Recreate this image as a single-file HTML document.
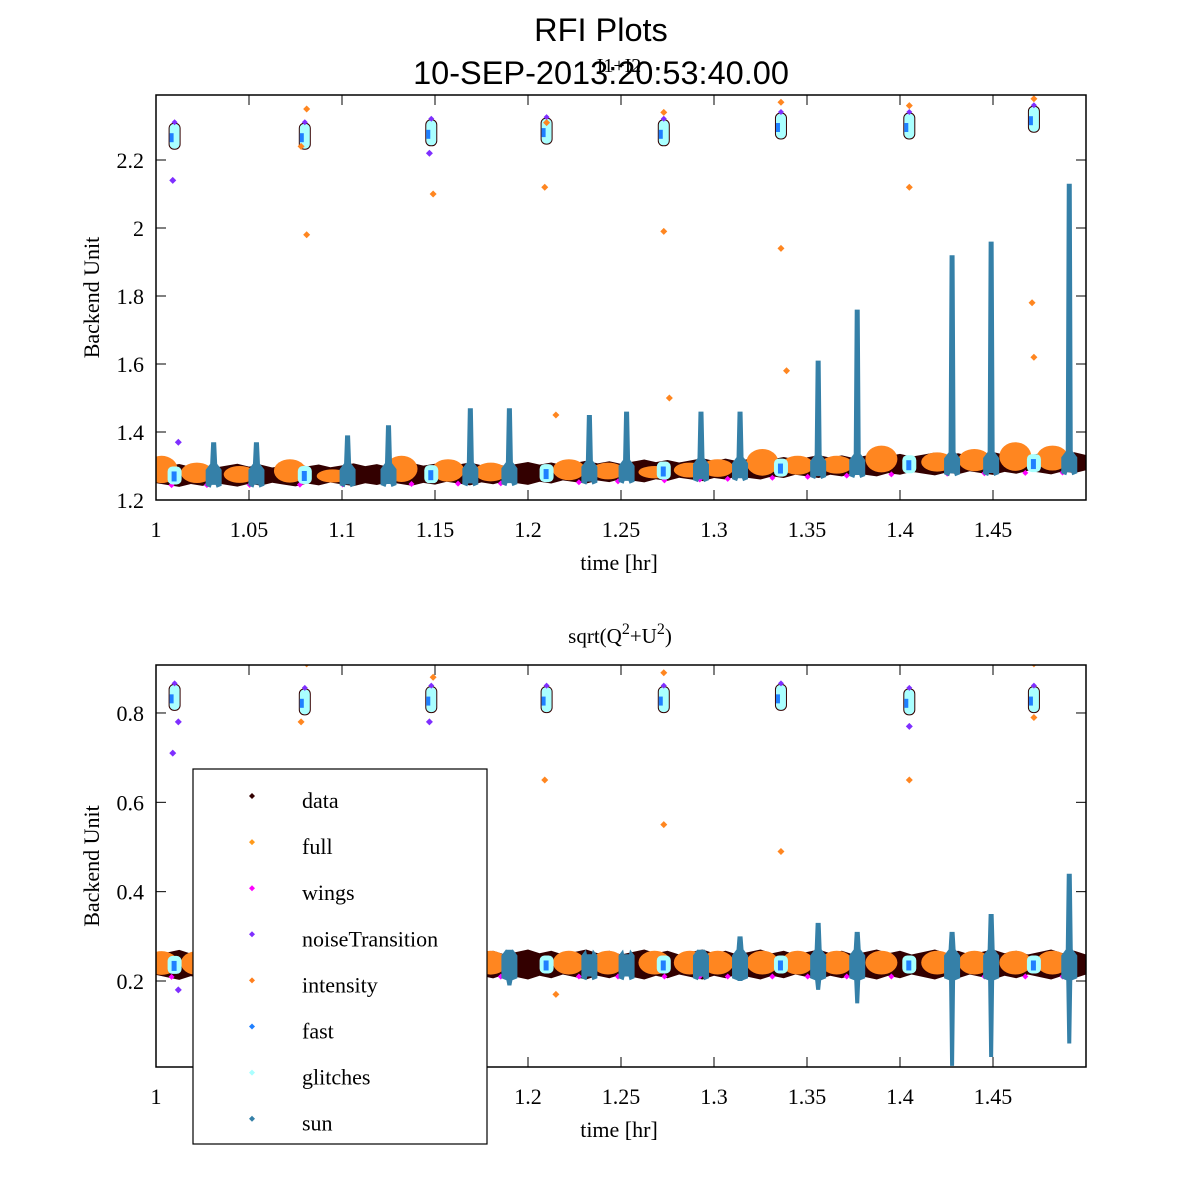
<!DOCTYPE html>
<html><head><meta charset="utf-8"><style>
body{margin:0;background:#fff;}
svg{display:block;}
.ser{font-family:"Liberation Serif",serif;}
.san{font-family:"Liberation Sans",sans-serif;}
</style></head><body>
<svg id="fig" width="1200" height="1200" xmlns="http://www.w3.org/2000/svg">
<rect width="1200" height="1200" fill="#fff"/>
<text class="san" x="601" y="41" font-size="32.5" text-anchor="middle">RFI Plots</text>
<text class="san" x="601" y="84" font-size="32.5" text-anchor="middle">10-SEP-2013:20:53:40.00</text>
<text class="ser" x="619" y="72" font-size="20" text-anchor="middle">I1+I2</text>
<text class="ser" x="620" y="643" font-size="21" text-anchor="middle">sqrt(Q<tspan dy="-9" font-size="16">2</tspan><tspan dy="9">+U</tspan><tspan dy="-9" font-size="16">2</tspan><tspan dy="9">)</tspan></text>
<g id="top"></g>
<g id="bot"></g>
<g id="legend"></g>
</svg>
<script>
const xTicks=[1,1.05,1.1,1.15,1.2,1.25,1.3,1.35,1.4,1.45];
const xTickLabels=["1","1.05","1.1","1.15","1.2","1.25","1.3","1.35","1.4","1.45"];
const topYTicks=[1.2,1.4,1.6,1.8,2,2.2];
const topYTickLabels=["1.2","1.4","1.6","1.8","2","2.2"];
const botYTicks=[0.2,0.4,0.6,0.8];
const botYTickLabels=["0.2","0.4","0.6","0.8"];
// calibration clusters
const calTimes=[1.010,1.080,1.148,1.210,1.273,1.336,1.405,1.472];
const calTop=[2.27,2.27,2.28,2.285,2.28,2.30,2.30,2.32];
const calBot=[0.835,0.825,0.83,0.83,0.83,0.835,0.825,0.83];
// sun spikes
const sunTimes=[1.031,1.054,1.103,1.125,1.169,1.190,1.233,1.253,1.293,1.314,1.356,1.377,1.428,1.449,1.491];
const sunPeakTop=[1.37,1.37,1.39,1.42,1.47,1.47,1.45,1.46,1.46,1.46,1.61,1.76,1.92,1.96,2.13];
const sunHiBot=[0.26,0.26,0.26,0.27,0.27,0.27,0.26,0.26,0.27,0.30,0.33,0.31,0.31,0.35,0.44];
const sunLoBot=[0.21,0.21,0.21,0.21,0.20,0.19,0.21,0.21,0.21,0.20,0.18,0.15,0.01,0.03,0.06];
// baseline level (data band)
const baseTimes=[1.0,1.1,1.2,1.3,1.4,1.5];
const baseTop=[1.272,1.274,1.278,1.29,1.305,1.31];
const baseBot=[0.236,0.236,0.237,0.237,0.237,0.237];
// orange (full/intensity) blobs
const blobTimes=[1.003,1.022,1.045,1.072,1.095,1.132,1.157,1.180,1.222,1.243,1.268,1.287,1.302,1.326,1.345,1.366,1.390,1.420,1.440,1.462,1.482];
const blobTop=[1.33,1.31,1.30,1.32,1.29,1.33,1.32,1.31,1.32,1.31,1.30,1.31,1.32,1.35,1.33,1.33,1.36,1.34,1.35,1.37,1.36];
// outlier points
const outTimes=[1.009,1.012,1.078,1.081,1.081,1.147,1.149,1.209,1.210,1.273,1.273,1.336,1.336,1.405,1.405,1.471,1.472,1.472,1.215,1.276,1.339];
const outTop=[2.14,1.37,2.24,1.98,2.35,2.22,2.10,2.12,2.31,1.99,2.34,1.94,2.37,2.12,2.36,1.78,1.62,2.38,1.45,1.50,1.58];
const outKind=["n","n","i","i","i","n","i","i","i","i","i","i","i","i","i","i","i","i","i","i","i"];
const outBotT=[1.009,1.012,1.012,1.078,1.081,1.147,1.149,1.209,1.215,1.273,1.273,1.336,1.405,1.405,1.472,1.472];
const outBotV=[0.71,0.78,0.18,0.78,0.91,0.78,0.88,0.65,0.17,0.55,0.89,0.49,0.65,0.77,0.79,0.91];
const outBotKind=["n","n","n","i","i","n","i","i","i","i","i","i","i","n","i","i"];
const legendLabels=["data","full","wings","noiseTransition","intensity","fast","glitches","sun"];
const legendColors=["#330000","#ff9a1a","#ff00ff","#7f2fff","#ff7f1e","#1f7fff","#aaffff","#3580a8"];

const NS="http://www.w3.org/2000/svg";
function mk(p,tag,at){const e=document.createElementNS(NS,tag);for(const k in at)e.setAttribute(k,at[k]);p.appendChild(e);return e;}
const X0=156,X1=1086;
const xs=t=>X0+(t-1)/0.5*(X1-X0);
function interp(ts,vs,t){for(let i=0;i<ts.length-1;i++){if(t<=ts[i+1]){const f=(t-ts[i])/(ts[i+1]-ts[i]);return vs[i]+f*(vs[i+1]-vs[i]);}}return vs[vs.length-1];}
const C={data:"#330000",orange:"#ff8620",mag:"#ff00ff",purp:"#7f2fff",fast:"#1f7fff",gl:"#aaffff",sun:"#3580a8"};

function axes(g,Y0,Y1,ys,yt,ytl,xl){
  mk(g,"rect",{x:X0,y:Y0,width:X1-X0,height:Y1-Y0,fill:"none",stroke:"#000","stroke-width":1.5});
  xTicks.forEach((t,i)=>{const x=xs(t);
    const a=mk(g,"line",{x1:x,x2:x,y1:Y1,y2:Y1-10,stroke:"#000"});
    mk(g,"line",{x1:x,x2:x,y1:Y0,y2:Y0+10,stroke:"#000"});
    const tx=mk(g,"text",{x:x,y:Y1+37,"font-size":22,"text-anchor":"middle",class:"ser"});tx.textContent=xl[i];
    });
  yt.forEach((v,i)=>{const y=ys(v);
    mk(g,"line",{x1:X0,x2:X0+10,y1:y,y2:y,stroke:"#000"});mk(g,"line",{x1:X1,x2:X1-10,y1:y,y2:y,stroke:"#000"});
    const tx=mk(g,"text",{x:X0-12,y:y+8,"font-size":22,"text-anchor":"end",class:"ser"});tx.textContent=ytl[i];
    });
  const xlab=mk(g,"text",{x:619,y:Y1+70,"font-size":22,"text-anchor":"middle",class:"ser"});xlab.textContent="time [hr]";
  
  const yc=(Y0+Y1)/2;
  const ylab=mk(g,"text",{x:99,y:yc,"font-size":22,"text-anchor":"middle",class:"ser",transform:`rotate(-90 99 ${yc})`});ylab.textContent="Backend Unit";
  
}
function pt(g,x,y,c,r){const e=mk(g,"path",{d:`M${x-r} ${y}L${x} ${y-r}L${x+r} ${y}L${x} ${y+r}Z`,fill:c});return e;}

function panel(g,Y0,Y1,ys,baseV,hw,isTop){
  const clip="c"+Y0;const d=mk(g,"clipPath",{id:clip});mk(d,"rect",{x:X0,y:Y0,width:X1-X0,height:Y1-Y0});
  const p=mk(g,"g",{"clip-path":`url(#${clip})`});
  let up=[],dn=[];
  for(let k=0;k<=80;k++){const t=1+k*0.5/80;const v=interp(baseTimes,baseV,t);const w=hw*(1+0.2*((k*7)%5-2)/2);
    up.push(`${xs(t)},${ys(v+w)}`);dn.unshift(`${xs(t)},${ys(v-w)}`);}
  const band=mk(p,"polygon",{points:up.concat(dn).join(" "),fill:C.data});
  
  blobTimes.forEach((t,i)=>{const b=interp(baseTimes,baseV,t);
    const top=isTop?blobTop[i]:b+hw*1.1;const bot=b-hw*0.8;
    const e=mk(p,"ellipse",{cx:xs(t),cy:(ys(top)+ys(bot))/2,rx:16,ry:Math.abs(ys(bot)-ys(top))/2,fill:C.orange});
    
    pt(p,xs(t)+10,ys(bot)+2,C.mag,3);});
  sunTimes.forEach((t,i)=>{const b=interp(baseTimes,baseV,t);
    const hi=isTop?sunPeakTop[i]:sunHiBot[i];const lo=isTop?b-hw:sunLoBot[i];
    const x=xs(t),yh=ys(hi),yl=ys(lo),yb1=ys(b+hw*1.2),yb2=ys(b-hw*1.1);
    const s=mk(p,"path",{d:`M${x-2.5} ${yh}L${x+2.5} ${yh}L${x+3.5} ${yb1}L${x+8} ${yb1+6}L${x+8} ${yb2}L${x+3} ${yb2+2}L${x+2} ${yl}L${x-2} ${yl}L${x-3} ${yb2+2}L${x-8} ${yb2}L${x-8} ${yb1+6}L${x-3.5} ${yb1}Z`,fill:C.sun});
    });
  calTimes.forEach((t,i)=>{const v=isTop?calTop[i]:calBot[i];const x=xs(t),y=ys(v);
    const e=mk(p,"rect",{x:x-5.5,y:y-13,width:11,height:26,rx:5,fill:C.gl,stroke:C.data,"stroke-width":1});
    
    mk(p,"rect",{x:x-5,y:y-3,width:4,height:9,fill:C.fast});
    pt(p,x,y-14,C.purp,3);
    const b=interp(baseTimes,baseV,t);
    const c=mk(p,"rect",{x:x-7,y:ys(b)-9,width:14,height:18,rx:5,fill:C.gl});
    
    mk(p,"rect",{x:x-3,y:ys(b)-4,width:5,height:10,fill:C.fast});});
  const T=isTop?outTimes:outBotT,V=isTop?outTop:outBotV,K=isTop?outKind:outBotKind;
  T.forEach((t,i)=>{const e=pt(p,xs(t),ys(V[i]),K[i]=="n"?C.purp:C.orange,3.5);
    });
}
const topY=v=>500-(v-1.2)*340;
const botY=v=>981-(v-0.2)*446.7;
const gT=document.getElementById("top"),gB=document.getElementById("bot");
panel(gT,95,500,topY,baseTop,0.028,true);
axes(gT,95,500,topY,topYTicks,topYTickLabels,xTickLabels);
panel(gB,665,1067,botY,baseBot,0.028,false);
axes(gB,665,1067,botY,botYTicks,botYTickLabels,xTickLabels);
const L=document.getElementById("legend");
mk(L,"rect",{x:193,y:769,width:294,height:375,fill:"#fff",stroke:"#000","stroke-width":1.2});
legendLabels.forEach((n,i)=>{const y=800+i*46.1;
  const m=pt(L,252,y-4,legendColors[i],3);
  const tx=mk(L,"text",{x:302,y:y+8,"font-size":22,class:"ser"});tx.textContent=n;
  });
</script>
</body></html>
